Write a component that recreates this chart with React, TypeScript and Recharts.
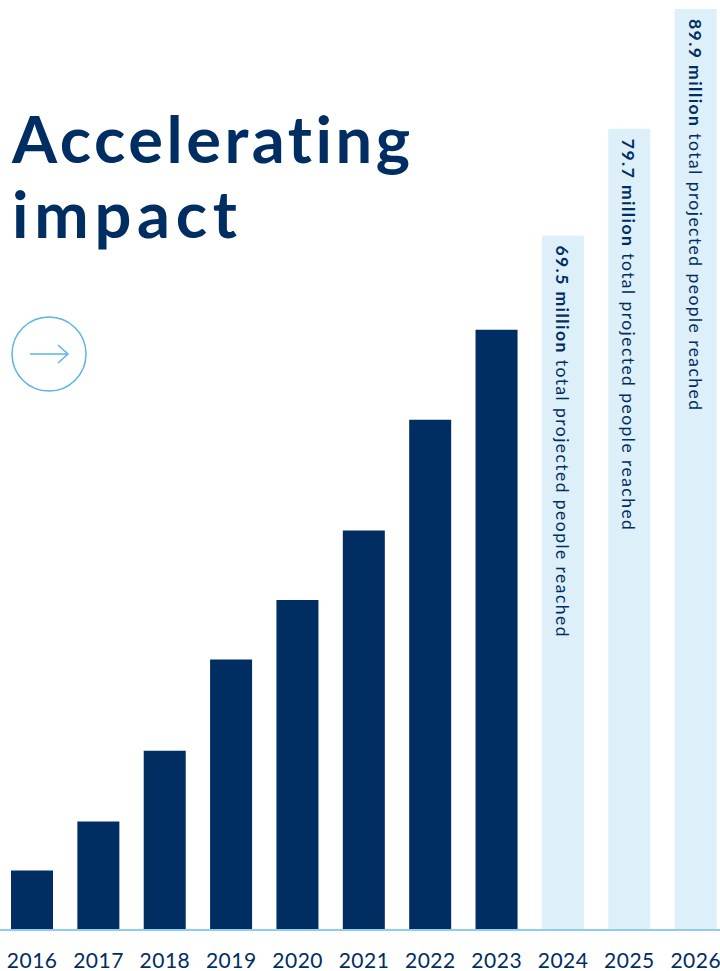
import React from 'react';
import { BarChart, Bar, XAxis, YAxis, Cell, LabelList } from 'recharts';

// people reached, millions (bar heights)
const years = ['2016', '2017', '2018', '2019', '2020', '2021', '2022', '2023', '2024', '2025', '2026'];
const reached = [5.8, 10.6, 17.5, 26.4, 32.2, 39.0, 49.8, 58.6, 67.8, 78.2, 89.9];
const projected = [false, false, false, false, false, false, false, false, true, true, true];
const projectedLabels = ['', '', '', '', '', '', '', '', '69.5 million', '79.7 million', '89.9 million'];

const NAVY = '#002d62';
const LIGHT = '#ddeff9';
const SKY = '#8ecdf0';
const FONT = 'Lato, "Noto Sans", sans-serif';

const data = years.map((year, i) => ({
  year,
  value: reached[i],
  projected: projected[i],
  label: projectedLabels[i],
}));

const YearTick = (props: any) => {
  const { x, payload } = props;
  return (
    <text x={x} y={968} textAnchor="middle" fontSize={21} fill={NAVY} fontFamily={FONT} letterSpacing={0.5}>
      {payload.value}
    </text>
  );
};

const ProjectedLabel = (props: any) => {
  const { x, y, width, value } = props;
  if (!value) return null;
  const cx = Number(x) + Number(width) / 2;
  return (
    <text
      transform={`translate(${cx},${Number(y) + 10}) rotate(90)`}
      dominantBaseline="central"
      fontSize={17.5}
      fill={NAVY}
      fontFamily={FONT}
      letterSpacing={1.45}
      style={{ fontVariantLigatures: 'none' }}
    >
      <tspan fontWeight={700}>{value}</tspan>
      <tspan>{'\u00a0total projected people reached'}</tspan>
    </text>
  );
};

const App: React.FC = () => {
  return (
    <div style={{ position: 'absolute', left: 0, top: 0, width: 720, height: 971, overflow: 'hidden', background: '#fff' }}>
      <div style={{ position: 'absolute', left: -1, top: 0 }}>
        <BarChart width={730} height={971} data={data} margin={{ top: 9, right: 0, bottom: 0, left: 0 }}>
          <XAxis
            dataKey="year"
            height={41}
            tickLine={false}
            axisLine={{ stroke: SKY, strokeWidth: 2 }}
            tick={<YearTick />}
            interval={0}
          />
          <YAxis hide domain={[0, 89.9]} />
          <Bar dataKey="value" barSize={42} isAnimationActive={false}>
            {data.map((d, i) => (
              <Cell key={`c-${i}`} fill={d.projected ? LIGHT : NAVY} />
            ))}
            <LabelList dataKey="label" content={<ProjectedLabel />} />
          </Bar>
        </BarChart>
      </div>

      {/* title and arrow button */}
      <svg width={720} height={420} style={{ position: 'absolute', left: 0, top: 0, pointerEvents: 'none', fontVariantLigatures: 'none' }}>
        <text x={12} y={163} fontSize={65} fontWeight={700} fill={NAVY} fontFamily={FONT} textLength={398} lengthAdjust="spacing">
          Accelerating
        </text>
        <text x={12} y={238} fontSize={65} fontWeight={700} fill={NAVY} fontFamily={FONT} textLength={225} lengthAdjust="spacing">
          impact
        </text>
        <circle cx={49} cy={354} r={37} fill="none" stroke="#5ab4e5" strokeWidth={1.5} />
        <line x1={30} y1={354} x2={68} y2={354} stroke="#5ab4e5" strokeWidth={1.5} />
        <polyline points="58,345 68,354 58,363" fill="none" stroke="#5ab4e5" strokeWidth={1.5} />
      </svg>
    </div>
  );
};

export default App;
